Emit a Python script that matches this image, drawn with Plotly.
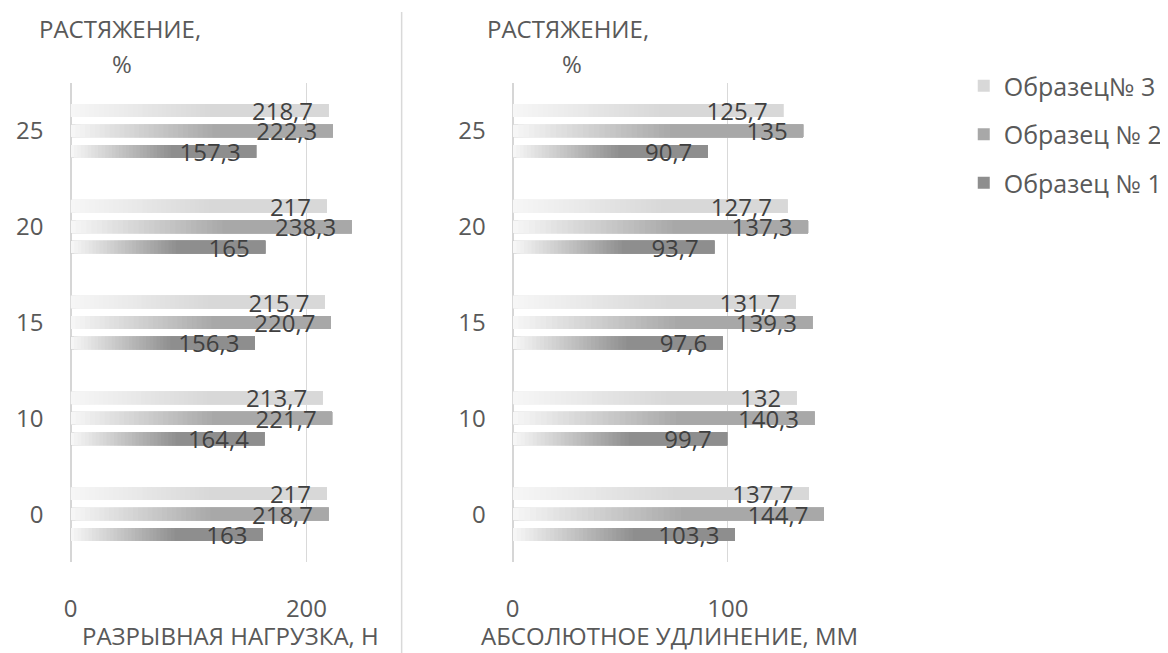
import plotly.graph_objects as go

categories = ["0", "10", "15", "20", "25"]
series_names = ["Образец № 1", "Образец № 2", "Образец№ 3"]
load_s1 = [163, 164.4, 156.3, 165, 157.3]
load_s2 = [218.7, 221.7, 220.7, 238.3, 222.3]
load_s3 = [217, 213.7, 215.7, 217, 218.7]
elong_s1 = [103.3, 99.7, 97.6, 93.7, 90.7]
elong_s2 = [144.7, 140.3, 139.3, 137.3, 135]
elong_s3 = [137.7, 132, 131.7, 127.7, 125.7]
x_ticks_load = [0, 200]
x_ticks_elong = [0, 100]

colors = [(0x8e, 0x8e, 0x8e), (0xa8, 0xa8, 0xa8), (0xd8, 0xd8, 0xd8)]
start = (0xf6, 0xf6, 0xf6)
N = 30
FRAC = 0.56
FONT = "Open Sans"
TXT = "#595959"

# page has an 8px body margin; reference coordinates are converted
OFF = 8
W, H = 1160, 645


def PX(x):
    return (x - OFF) / W


def PY(y):
    return (H - (y - OFF)) / H


def rgb(c):
    return "rgb(%d,%d,%d)" % tuple(int(round(v)) for v in c)


def fmt(v):
    return ("%g" % v).replace(".", ",")


fig = go.Figure()


def add_panel(data, xa, ya, showlegend):
    for s, vals in enumerate(data):
        grp = "s%d" % s
        fig.add_trace(go.Bar(
            y=categories, x=vals, orientation="h", name=series_names[s],
            marker=dict(color=rgb(colors[s]), line=dict(width=0)),
            offsetgroup=grp, legendgroup=grp, showlegend=showlegend,
            legendrank=10 - s,
            xaxis=xa, yaxis=ya, hoverinfo="skip"))
        for k in range(N):
            t = k / (N - 1)
            c = [start[i] + (colors[s][i] - start[i]) * t for i in range(3)]
            bases = [v * FRAC * k / N for v in vals]
            fig.add_trace(go.Bar(
                y=categories, x=[v - b for v, b in zip(vals, bases)],
                base=bases, orientation="h",
                marker=dict(color=rgb(c), line=dict(width=0)),
                offsetgroup=grp, legendgroup=grp, showlegend=False,
                xaxis=xa, yaxis=ya, hoverinfo="skip"))
        fig.add_trace(go.Bar(
            y=categories, x=vals, orientation="h",
            marker=dict(color="rgba(0,0,0,0)", line=dict(width=0)),
            text=[fmt(v) + "\u00a0\u00a0" for v in vals],
            textposition="inside", insidetextanchor="end", constraintext="none",
            textfont=dict(family=FONT, size=24, color="#404040"),
            offsetgroup=grp, legendgroup=grp, showlegend=False,
            xaxis=xa, yaxis=ya, hoverinfo="skip", cliponaxis=False))


add_panel([load_s1, load_s2, load_s3], "x", "y", True)
add_panel([elong_s1, elong_s2, elong_s3], "x2", "y2", False)

ydom = [PY(562), PY(83)]

axis_common = dict(showline=False, ticks="", gridcolor="#d9d9d9", gridwidth=1,
                   zeroline=True, zerolinecolor="#d6d6d6", zerolinewidth=2,
                   tickfont=dict(family=FONT, size=24, color=TXT),
                   ticklabelstandoff=30, fixedrange=True)
yaxis_common = dict(type="category", showgrid=False, zeroline=False,
                    showline=False, ticks="",
                    tickfont=dict(family=FONT, size=24, color=TXT),
                    ticklabelstandoff=26, fixedrange=True)

fig.update_layout(
    width=W, height=H, margin=dict(l=0, r=0, t=0, b=0),
    paper_bgcolor="white", plot_bgcolor="white",
    barmode="group", bargap=0.36, bargroupgap=0.37,
    font=dict(family=FONT, color=TXT),
    xaxis=dict(domain=[PX(64), PX(367)], range=[0, (367 - 64) / 1.19],
               tickvals=x_ticks_load, anchor="y", **axis_common),
    xaxis2=dict(domain=[PX(510), PX(858)], range=[0, (858 - 510) / 2.17],
                tickvals=x_ticks_elong, anchor="y2", **axis_common),
    yaxis=dict(domain=ydom, anchor="x", **yaxis_common),
    yaxis2=dict(domain=ydom, anchor="x2", **yaxis_common),
    legend=dict(x=PX(965), y=PY(63), xanchor="left", yanchor="top",
                traceorder="grouped", tracegroupgap=13,
                font=dict(family=FONT, size=25, color=TXT),
                bgcolor="rgba(0,0,0,0)"),
    showlegend=True,
)

ann_font = dict(family=FONT, size=24, color=TXT)
anns = [
    dict(text="РАСТЯЖЕНИЕ,", x=PX(114), y=PY(28)),
    dict(text="%", x=PX(116), y=PY(63)),
    dict(text="РАСТЯЖЕНИЕ,", x=PX(566), y=PY(28)),
    dict(text="%", x=PX(570), y=PY(63)),
    dict(text="РАЗРЫВНАЯ НАГРУЗКА, Н", x=PX(225), y=PY(635)),
    dict(text="АБСОЛЮТНОЕ УДЛИНЕНИЕ, ММ", x=PX(668), y=PY(635)),
]
for a in anns:
    fig.add_annotation(xref="paper", yref="paper", showarrow=False,
                       xanchor="center", yanchor="middle", font=ann_font, **a)

fig.add_shape(type="line", xref="paper", yref="paper",
              x0=PX(398), x1=PX(398), y0=0, y1=PY(12),
              line=dict(color="#d9d9d9", width=1.5))

fig.write_html("out.html")
